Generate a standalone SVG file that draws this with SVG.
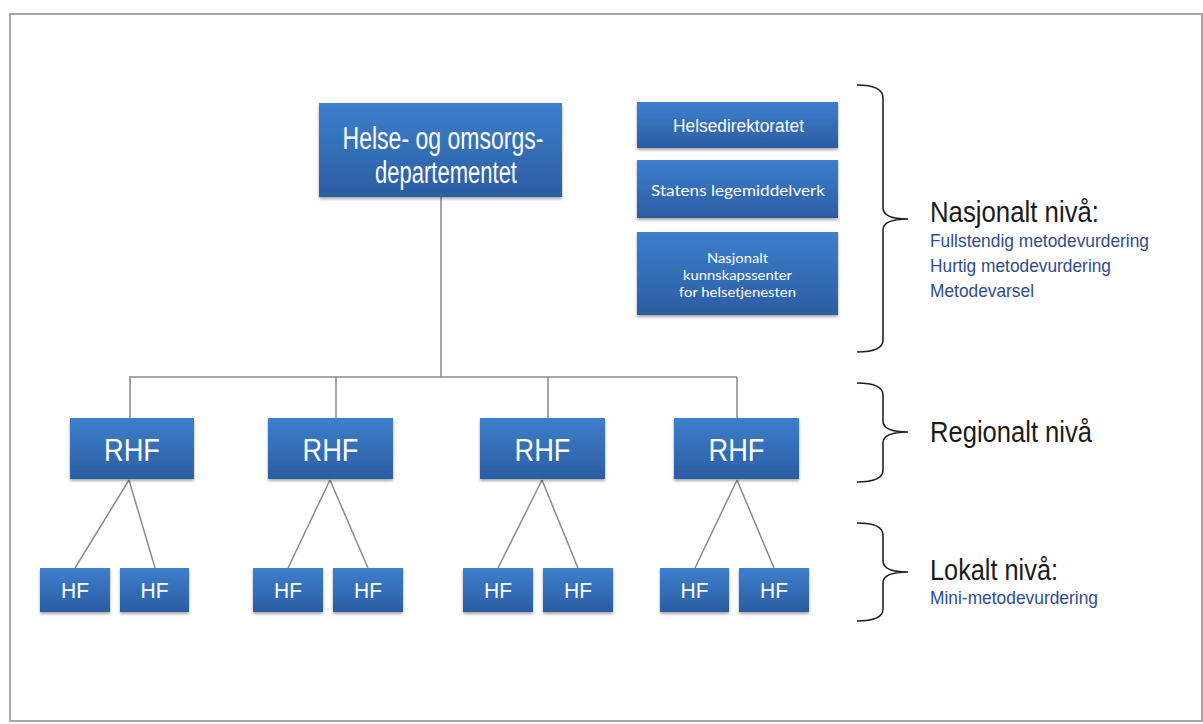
<svg xmlns="http://www.w3.org/2000/svg" width="1203" height="724" viewBox="0 0 1203 724">
<defs>
<linearGradient id="g" x1="0" y1="0" x2="0" y2="1">
<stop offset="0" stop-color="#3d7fcd"/>
<stop offset="1" stop-color="#2b5da2"/>
</linearGradient>
<filter id="sh" x="-10%" y="-10%" width="120%" height="130%">
<feDropShadow dx="0" dy="2" stdDeviation="1.5" flood-color="#000" flood-opacity="0.35"/>
</filter>
</defs>
<style>
.box{fill:url(#g);filter:url(#sh);}
.wt{fill:#fff;font-family:"Liberation Sans",Arial,sans-serif;text-anchor:middle;}
.wc{fill:#fff;font-family:Lato,"Liberation Sans",sans-serif;text-anchor:middle;}
.con{stroke:#8a8a8a;stroke-width:1.5;fill:none;}
.brace{stroke:#222;stroke-width:1.6;fill:none;}
.lvl{fill:#1a1a1a;font-family:"Liberation Sans",Arial,sans-serif;font-size:29px;}
.sub{fill:#2f4d8c;font-family:"Liberation Sans",Arial,sans-serif;font-size:19px;}
</style>
<rect x="10" y="14" width="1192" height="707" fill="#fff" stroke="#a8a8a8" stroke-width="2"/>

<g id="connectors">
<path class="con" d="M441,197 V377 M129,377 H737 M130,377 V418 M336,377 V418 M548,377 V418 M737,377 V418"/>
<path class="con" d="M129,480 L75,568 M129,480 L155,568 M330,480 L288,568 M330,480 L368,568 M542,480 L498,568 M542,480 L578,568 M737,480 L695,568 M737,480 L774,568"/>
</g>

<g id="hod">
<rect class="box" x="319" y="103" width="243" height="94"/>
<text class="wt" x="443" y="149" font-size="31" textLength="201" lengthAdjust="spacingAndGlyphs">Helse- og omsorgs-</text>
<text class="wt" x="446" y="183" font-size="31" textLength="142" lengthAdjust="spacingAndGlyphs">departementet</text>
</g>
<g id="hdir">
<rect class="box" x="637" y="102" width="201" height="46"/>
<text class="wt" x="738.5" y="132" font-size="18" textLength="131" lengthAdjust="spacingAndGlyphs">Helsedirektoratet</text>
</g>
<g id="slv">
<rect class="box" x="637" y="160" width="201" height="58"/>
<text class="wc" x="738" y="196" font-size="16" textLength="174" lengthAdjust="spacingAndGlyphs">Statens legemiddelverk</text>
</g>
<g id="kunnskapssenter">
<rect class="box" x="637" y="232" width="201" height="83"/>
<text class="wc" x="737.5" y="263" font-size="14" textLength="61" lengthAdjust="spacingAndGlyphs">Nasjonalt</text>
<text class="wc" x="737.5" y="280" font-size="14" textLength="109" lengthAdjust="spacingAndGlyphs">kunnskapssenter</text>
<text class="wc" x="737.5" y="297" font-size="14" textLength="117" lengthAdjust="spacingAndGlyphs">for helsetjenesten</text>
</g>

<g id="rhf1"><rect class="box" x="70" y="418" width="124" height="61"/><text class="wt" x="132" y="461" font-size="31" textLength="56" lengthAdjust="spacingAndGlyphs">RHF</text></g>
<g id="rhf2"><rect class="box" x="268" y="418" width="125" height="61"/><text class="wt" x="330.5" y="461" font-size="31" textLength="56" lengthAdjust="spacingAndGlyphs">RHF</text></g>
<g id="rhf3"><rect class="box" x="480" y="418" width="125" height="61"/><text class="wt" x="542.5" y="461" font-size="31" textLength="56" lengthAdjust="spacingAndGlyphs">RHF</text></g>
<g id="rhf4"><rect class="box" x="674" y="418" width="125" height="61"/><text class="wt" x="736.5" y="461" font-size="31" textLength="56" lengthAdjust="spacingAndGlyphs">RHF</text></g>

<g id="hf1a"><rect class="box" x="40" y="568" width="70" height="44"/><text class="wt" x="75" y="598" font-size="22" textLength="28" lengthAdjust="spacingAndGlyphs">HF</text></g>
<g id="hf1b"><rect class="box" x="120" y="568" width="69" height="44"/><text class="wt" x="154.5" y="598" font-size="22" textLength="28" lengthAdjust="spacingAndGlyphs">HF</text></g>
<g id="hf2a"><rect class="box" x="253" y="568" width="70" height="44"/><text class="wt" x="288" y="598" font-size="22" textLength="28" lengthAdjust="spacingAndGlyphs">HF</text></g>
<g id="hf2b"><rect class="box" x="333" y="568" width="70" height="44"/><text class="wt" x="368" y="598" font-size="22" textLength="28" lengthAdjust="spacingAndGlyphs">HF</text></g>
<g id="hf3a"><rect class="box" x="463" y="568" width="70" height="44"/><text class="wt" x="498" y="598" font-size="22" textLength="28" lengthAdjust="spacingAndGlyphs">HF</text></g>
<g id="hf3b"><rect class="box" x="543" y="568" width="70" height="44"/><text class="wt" x="578" y="598" font-size="22" textLength="28" lengthAdjust="spacingAndGlyphs">HF</text></g>
<g id="hf4a"><rect class="box" x="660" y="568" width="69" height="44"/><text class="wt" x="694.5" y="598" font-size="22" textLength="28" lengthAdjust="spacingAndGlyphs">HF</text></g>
<g id="hf4b"><rect class="box" x="739" y="568" width="70" height="44"/><text class="wt" x="774" y="598" font-size="22" textLength="28" lengthAdjust="spacingAndGlyphs">HF</text></g>

<g id="nasjonalt-niva">
<path class="brace" d="M857,85 Q883,85 883,98 L883,208 Q883,219 908,219 Q883,219 883,230 L883,340 Q883,352 857,352"/>
<text class="lvl" x="930" y="222" textLength="169" lengthAdjust="spacingAndGlyphs">Nasjonalt nivå:</text>
<text class="sub" x="930" y="247" textLength="219" lengthAdjust="spacingAndGlyphs">Fullstendig metodevurdering</text>
<text class="sub" x="930" y="272" textLength="181" lengthAdjust="spacingAndGlyphs">Hurtig metodevurdering</text>
<text class="sub" x="930" y="297" textLength="104" lengthAdjust="spacingAndGlyphs">Metodevarsel</text>
</g>
<g id="regionalt-niva">
<path class="brace" d="M857,383 Q883,383 883,395 L883,421 Q883,432 908,432 Q883,432 883,443 L883,470 Q883,482 857,482"/>
<text class="lvl" x="930" y="442" textLength="162" lengthAdjust="spacingAndGlyphs">Regionalt nivå</text>
</g>
<g id="lokalt-niva">
<path class="brace" d="M857,523 Q883,523 883,535 L883,561 Q883,572 908,572 Q883,572 883,583 L883,609 Q883,621 857,621"/>
<text class="lvl" x="930" y="580" textLength="128" lengthAdjust="spacingAndGlyphs">Lokalt nivå:</text>
<text class="sub" x="930" y="604" textLength="168" lengthAdjust="spacingAndGlyphs">Mini-metodevurdering</text>
</g>
</svg>
